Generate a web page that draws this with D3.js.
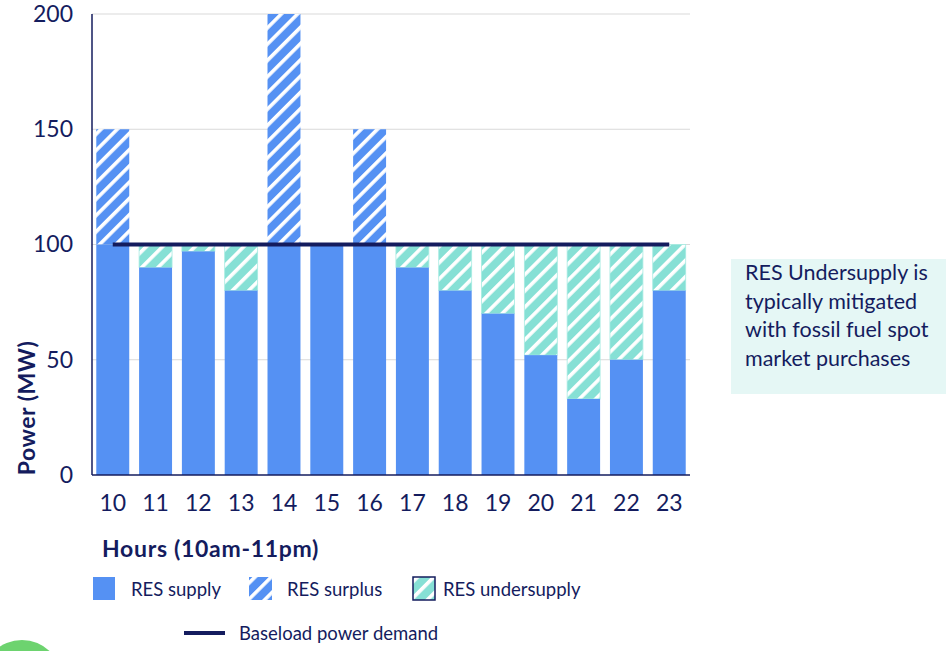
<!DOCTYPE html>
<html><head><meta charset="utf-8">
<script src="https://cdn.jsdelivr.net/npm/d3@7"></script>
<style>
html,body{margin:0;padding:0;background:#fff;}
svg{display:block;font-family:Lato,"Open Sans",sans-serif;}
</style></head>
<body>
<svg id="chart" width="946" height="651"></svg>
<script>
const hours = ["10","11","12","13","14","15","16","17","18","19","20","21","22","23"];
const resSupply = [100, 90, 97, 80, 100, 100, 100, 90, 80, 70, 52, 33, 50, 80];
const resSurplus = [50, 0, 0, 0, 100, 0, 50, 0, 0, 0, 0, 0, 0, 0];
const baseload = [100,100,100,100,100,100,100,100,100,100,100,100,100,100];
const yTicks = [0, 50, 100, 150, 200];
const legendLabels = ["RES supply", "RES surplus", "RES undersupply", "Baseload power demand"];
const noteLines = ["RES Undersupply is", "typically mitigated", "with fossil fuel spot", "market purchases"];

const navy = "#141c5e", blue = "#5591f3", teal = "#86e0d5";
const svg = d3.select("#chart");
const m = {l: 92, r: 690, t: 14, b: 475};

const x = d3.scaleBand().domain(hours).range([m.l, m.r]).paddingInner(0.23).paddingOuter(0.1);
const y = d3.scaleLinear().domain([0, 200]).range([m.b, m.t]);

const defs = svg.append("defs");
function stripes(id, color) {
  const p = defs.append("pattern").attr("id", id).attr("patternUnits", "userSpaceOnUse")
    .attr("width", 11.5).attr("height", 11.5).attr("patternTransform", "rotate(45)");
  p.append("rect").attr("width", 11.5).attr("height", 11.5).attr("fill", color);
  p.append("rect").attr("x", 0).attr("width", 3.6).attr("height", 11.5).attr("fill", "#fff");
}
stripes("surplus", blue);
stripes("under", teal);

// green circle decoration
svg.append("circle").attr("cx", 22).attr("cy", 680).attr("r", 40).attr("fill", "#6dd36f");

// gridlines
svg.append("g").selectAll("line").data(yTicks.filter(d => d > 0)).join("line")
  .attr("x1", m.l).attr("x2", m.r).attr("y1", d => y(d)).attr("y2", d => y(d))
  .attr("stroke", "#d9d9d9").attr("stroke-width", 1.2);

// bars
const bw = x.bandwidth();
const g = svg.append("g");
hours.forEach((h, i) => {
  const under = Math.max(0, baseload[i] - resSupply[i]);
  if (under > 0) {
    g.append("rect").attr("x", x(h)).attr("width", bw)
      .attr("y", y(resSupply[i] + under)).attr("height", y(resSupply[i]) - y(resSupply[i] + under))
      .attr("fill", "url(#under)").attr("stroke", "#a6ebe2").attr("stroke-width", 0.8);
  }
  if (resSurplus[i] > 0) {
    g.append("rect").attr("x", x(h)).attr("width", bw)
      .attr("y", y(resSupply[i] + resSurplus[i])).attr("height", y(resSupply[i]) - y(resSupply[i] + resSurplus[i]))
      .attr("fill", "url(#surplus)");
  }
  g.append("rect").attr("x", x(h)).attr("width", bw)
    .attr("y", y(resSupply[i])).attr("height", y(0) - y(resSupply[i]))
    .attr("fill", blue);
});

// baseload line
const line = d3.line().x((d, i) => x(hours[i]) + bw / 2).y(d => y(d));
svg.append("path").datum(baseload).attr("d", line).attr("fill", "none")
  .attr("stroke", navy).attr("stroke-width", 4);

// axes
svg.append("line").attr("x1", m.l).attr("x2", m.l).attr("y1", m.t).attr("y2", m.b)
  .attr("stroke", navy).attr("stroke-width", 1.5);
svg.append("line").attr("x1", m.l).attr("x2", m.r).attr("y1", m.b).attr("y2", m.b)
  .attr("stroke", navy).attr("stroke-width", 1.5);

const yAxis = svg.append("g").attr("transform", `translate(${m.l},0)`)
  .call(d3.axisLeft(y).tickValues(yTicks).tickSize(0).tickPadding(19));
yAxis.select(".domain").remove();
yAxis.selectAll("text").attr("fill", navy).attr("font-size", 23).attr("font-family", "Lato,sans-serif");

const xAxis = svg.append("g").attr("transform", `translate(0,${m.b})`)
  .call(d3.axisBottom(x).tickSize(0).tickPadding(20));
xAxis.select(".domain").remove();
xAxis.selectAll("text").attr("fill", navy).attr("font-size", 23).attr("font-family", "Lato,sans-serif");

// axis titles
svg.append("text").attr("transform", "translate(35,408) rotate(-90)").attr("text-anchor", "middle")
  .attr("fill", navy).attr("font-weight", "bold").attr("font-size", 23).attr("letter-spacing", 0.5).text("Power (MW)");
svg.append("text").attr("x", 102).attr("y", 557).attr("fill", navy).attr("font-weight", "bold")
  .attr("font-size", 23).attr("letter-spacing", 0.7).text("Hours (10am-11pm)");

// legend
const lg = svg.append("g").attr("font-size", 18.5);
lg.append("rect").attr("x", 93).attr("y", 577).attr("width", 22).attr("height", 23).attr("fill", blue);
lg.append("text").attr("x", 131).attr("y", 596).attr("fill", navy).text(legendLabels[0]);
lg.append("rect").attr("x", 249).attr("y", 577).attr("width", 23).attr("height", 23).attr("fill", "url(#surplus)");
lg.append("text").attr("x", 287).attr("y", 596).attr("fill", navy).text(legendLabels[1]);
lg.append("rect").attr("x", 413).attr("y", 577).attr("width", 22).attr("height", 23).attr("fill", "url(#under)")
  .attr("stroke", navy).attr("stroke-width", 1.5);
lg.append("text").attr("x", 443).attr("y", 596).attr("fill", navy).text(legendLabels[2]);
lg.append("line").attr("x1", 184).attr("x2", 225).attr("y1", 633).attr("y2", 633).attr("stroke", navy).attr("stroke-width", 4);
lg.append("text").attr("x", 239).attr("y", 640).attr("fill", navy).text(legendLabels[3]);

// annotation
svg.append("rect").attr("x", 731).attr("y", 259).attr("width", 215).attr("height", 135).attr("fill", "#e5f7f5");
svg.append("g").selectAll("text").data(noteLines).join("text")
  .attr("x", 745).attr("y", (d, i) => 280 + i * 28.5).attr("fill", navy).attr("font-size", 21.5).text(d => d);
</script>
</body></html>
